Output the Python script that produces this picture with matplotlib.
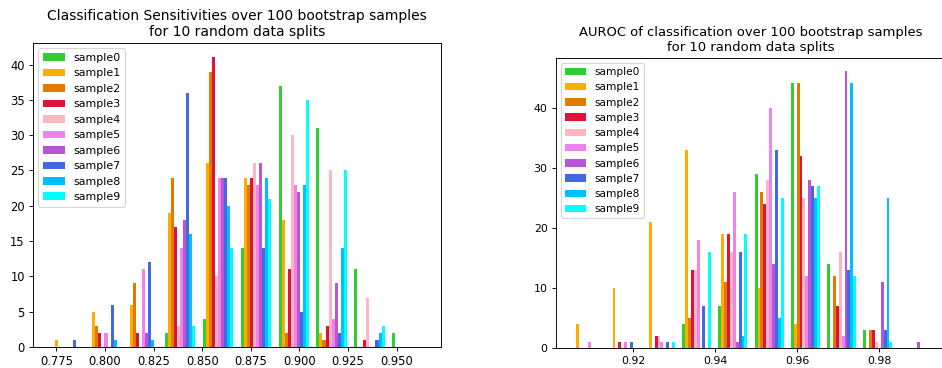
import numpy as np
import matplotlib
matplotlib.use('Agg')
import matplotlib.pyplot as plt

labels = ['sample%d' % i for i in range(10)]
colors = ['limegreen', '#ffad00', '#e27a00', 'crimson', 'lightpink',
          'violet', 'mediumorchid', 'royalblue', 'deepskyblue', 'cyan']

# Sensitivity histogram: 10 bins between these limits, counts per sample
sens_lo, sens_hi = 0.7706, 0.9652
sens_counts = [
    [0, 0, 0, 2, 4, 14, 37, 31, 11, 2],
    [1, 5, 6, 19, 26, 24, 18, 2, 0, 0],
    [0, 3, 9, 24, 39, 23, 2, 1, 0, 0],
    [0, 2, 2, 17, 41, 24, 11, 3, 1, 0],
    [0, 0, 0, 3, 10, 26, 30, 25, 7, 0],
    [0, 2, 11, 14, 24, 23, 23, 4, 0, 0],
    [0, 0, 2, 18, 24, 26, 22, 9, 0, 0],
    [1, 6, 12, 36, 24, 14, 5, 2, 1, 0],
    [0, 1, 1, 16, 20, 24, 23, 14, 2, 0],
    [0, 0, 0, 3, 14, 21, 35, 25, 3, 0],
]

# AUROC histogram
auc_lo, auc_hi = 0.9046, 0.9929
auc_counts = [
    [0, 0, 0, 4, 7, 29, 44, 14, 3, 0],
    [4, 10, 21, 33, 19, 10, 4, 0, 0, 0],
    [0, 0, 0, 5, 11, 26, 44, 12, 3, 0],
    [0, 1, 2, 13, 19, 24, 32, 7, 3, 0],
    [0, 0, 2, 13, 16, 28, 25, 16, 1, 0],
    [1, 1, 1, 18, 26, 40, 12, 2, 0, 0],
    [0, 0, 0, 0, 1, 14, 28, 46, 11, 1],
    [0, 1, 1, 7, 16, 33, 27, 13, 3, 0],
    [0, 0, 0, 0, 2, 5, 25, 44, 25, 0],
    [0, 0, 1, 16, 19, 25, 27, 12, 1, 0],
]


def draw(ax, lo, hi, counts, title, scale, legsize):
    edges = np.linspace(lo, hi, 11)
    centers = (edges[:-1] + edges[1:]) / 2
    ax.hist([centers] * len(counts), bins=edges,
            weights=[np.array(c, dtype=float) for c in counts],
            color=colors, label=labels)
    ax.set_title(title, fontsize=12 * scale)
    ax.tick_params(labelsize=10 * scale)
    ax.legend(loc='upper left', fontsize=legsize)


# the reference looks like a default figure shrunk a bit, so render at low dpi
DPI = 83
fig = plt.figure(figsize=(942 / DPI, 368 / DPI), dpi=DPI)
ax1 = fig.add_axes([0.035, 0.0571, 0.4331, 0.826])
ax2 = fig.add_axes([0.5899, 0.0535, 0.4147, 0.790])

draw(ax1, sens_lo, sens_hi, sens_counts,
     'Classification Sensitivities over 100 bootstrap samples\nfor 10 random data splits', 1.0, 9.5)
draw(ax2, auc_lo, auc_hi, auc_counts,
     'AUROC of classification over 100 bootstrap samples\nfor 10 random data splits', 0.95, 9.1)

fig.savefig('out.png', dpi=DPI)
